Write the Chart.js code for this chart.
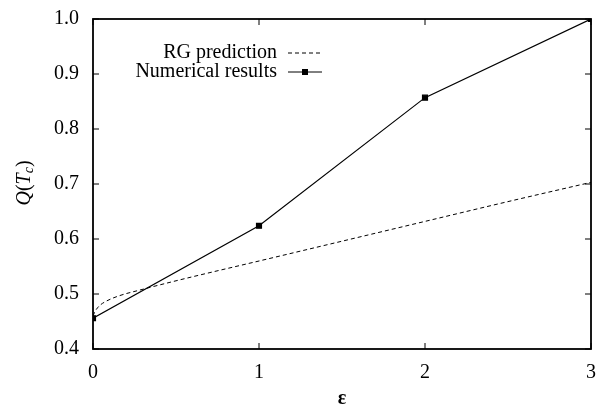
<!DOCTYPE html>
<html>
<head>
<meta charset="utf-8">
<script src="https://cdn.jsdelivr.net/npm/chart.js@4"></script>
<style>
  html, body { margin: 0; padding: 0; background: #fff; }
  #wrap { width: 600px; height: 409px; }
</style>
</head>
<body>
<div id="wrap"><canvas id="qChart"></canvas></div>
<script>
// epsilon values and Q(Tc)
const numEps = [0, 1, 2, 3];
const numQ = [0.456, 0.624, 0.857, 1.0];

const rgEps = [0, 0.01, 0.02, 0.04, 0.08, 0.16, 0.28, 0.5, 0.65, 1, 1.5, 2, 2.5, 3];
const rgQ = [0.460, 0.467, 0.472, 0.479, 0.487, 0.497, 0.507, 0.524, 0.535, 0.560, 0.596, 0.632, 0.668, 0.703];

const yTicks = [0.4, 0.5, 0.6, 0.7, 0.8, 0.9, 1.0];
const xTicks = [0, 1, 2, 3];

const serif = '"Liberation Serif", "DejaVu Serif", serif';

// gnuplot-ish frame, inward ticks, key and axis titles
const framePlugin = {
    id: 'frame',
    afterDraw(chart) {
        const { ctx, chartArea: a, scales } = chart;
        ctx.save();
        ctx.strokeStyle = '#000';
        ctx.lineWidth = 1.8;
        ctx.strokeRect(a.left, a.top, a.right - a.left, a.bottom - a.top);
        ctx.lineWidth = 1;
        ctx.beginPath();
        yTicks.forEach(v => {
            const y = scales.y.getPixelForValue(v);
            ctx.moveTo(a.left, y); ctx.lineTo(a.left + 6, y);
            ctx.moveTo(a.right, y); ctx.lineTo(a.right - 6, y);
        });
        xTicks.forEach(v => {
            const x = scales.x.getPixelForValue(v);
            ctx.moveTo(x, a.bottom); ctx.lineTo(x, a.bottom - 6);
            ctx.moveTo(x, a.top); ctx.lineTo(x, a.top + 6);
        });
        ctx.stroke();

        // key
        ctx.fillStyle = '#000';
        ctx.font = '20px ' + serif;
        ctx.textAlign = 'right';
        ctx.textBaseline = 'middle';
        const keyY = [53, 72];
        chart.data.datasets.forEach((ds, i) => {
            ctx.fillText(ds.label, 277, keyY[i]);
            ctx.beginPath();
            ctx.setLineDash(ds.borderDash || []);
            ctx.lineWidth = 1;
            ctx.moveTo(288, keyY[i]); ctx.lineTo(322, keyY[i]);
            ctx.stroke();
            ctx.setLineDash([]);
            if (ds.pointRadius > 0) ctx.fillRect(305 - 3, keyY[i] - 3, 6, 6);
        });

        // x title
        ctx.textAlign = 'center';
        ctx.font = 'bold 20px ' + serif;
        ctx.fillText('ε', 342, 399);

        // y title Q(T_c)
        ctx.translate(25, 183);
        ctx.rotate(-Math.PI / 2);
        ctx.textAlign = 'left';
        const parts = [
            ['italic 20px ' + serif, 'Q', 0],
            ['20px ' + serif, '(', 0],
            ['italic 20px ' + serif, 'T', 0],
            ['italic 14px ' + serif, 'c', 4],
            ['20px ' + serif, ')', 0]
        ];
        let w = 0;
        parts.forEach(p => { ctx.font = p[0]; w += ctx.measureText(p[1]).width; });
        let x = -w / 2;
        parts.forEach(p => {
            ctx.font = p[0];
            ctx.fillText(p[1], x, p[2]);
            x += ctx.measureText(p[1]).width;
        });
        ctx.restore();
    }
};

new Chart(document.getElementById('qChart'), {
    type: 'line',
    data: {
        datasets: [{
            label: 'RG prediction',
            data: rgEps.map((e, i) => ({ x: e, y: rgQ[i] })),
            borderColor: '#000',
            borderWidth: 1,
            borderDash: [4, 3],
            pointRadius: 0,
            cubicInterpolationMode: 'monotone',
            fill: false
        }, {
            label: 'Numerical results',
            data: numEps.map((e, i) => ({ x: e, y: numQ[i] })),
            borderColor: '#000',
            backgroundColor: '#000',
            borderWidth: 1.2,
            pointStyle: 'rect',
            pointRadius: 3.5,
            tension: 0,
            fill: false
        }]
    },
    options: {
        responsive: true,
        maintainAspectRatio: false,
        animation: false,
        layout: { padding: { top: 19, right: 9, left: 0, bottom: 0 } },
        plugins: { legend: { display: false }, tooltip: { enabled: false } },
        scales: {
            x: {
                type: 'linear', min: 0, max: 3,
                grid: { display: false },
                border: { display: false },
                afterFit: s => { s.height = 60; s.paddingLeft = 0; s.paddingRight = 0; },
                afterBuildTicks: s => { s.ticks = xTicks.map(v => ({ value: v })); },
                ticks: { color: '#000', padding: 4, font: { family: serif, size: 20 } }
            },
            y: {
                min: 0.4, max: 1.0,
                grid: { display: false },
                border: { display: false },
                afterFit: s => { s.width = 93; s.paddingTop = 0; s.paddingBottom = 0; },
                afterBuildTicks: s => { s.ticks = yTicks.map(v => ({ value: v })); },
                ticks: {
                    color: '#000', padding: 6,
                    font: { family: serif, size: 20 },
                    callback: v => v.toFixed(1)
                }
            }
        }
    },
    plugins: [framePlugin]
});
</script>
</body>
</html>
